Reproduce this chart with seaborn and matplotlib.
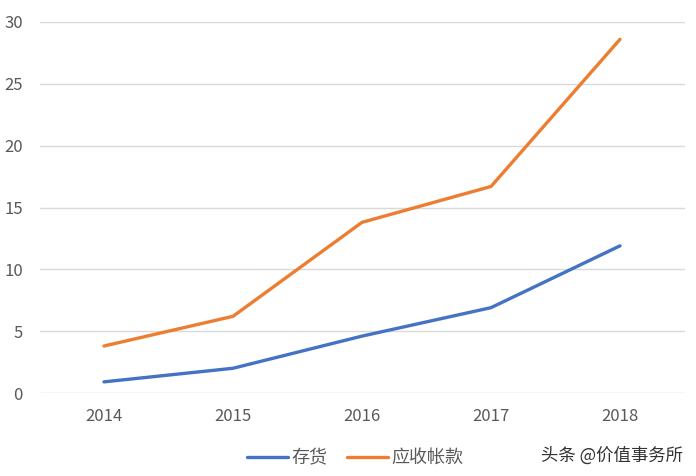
import pandas as pd
import seaborn as sns
import matplotlib.pyplot as plt

years = ['2014', '2015', '2016', '2017', '2018']
inventory = [0.9, 2.0, 4.6, 6.9, 11.9]
receivables = [3.8, 6.2, 13.8, 16.7, 28.6]
series_names = ['存货', '应收帐款']

df = pd.DataFrame({'year': years * 2,
                   'value': inventory + receivables,
                   'series': [series_names[0]] * 5 + [series_names[1]] * 5})
df['pos'] = list(range(5)) * 2

sns.set_theme(style='white')
plt.rcParams['font.family'] = ['Noto Sans CJK SC', 'DejaVu Sans']

fig = plt.figure(figsize=(6.96, 4.76), dpi=100)
ax = fig.add_axes([39.5 / 696, 1 - 393 / 476, 645 / 696, 371 / 476])

sns.lineplot(data=df, x='pos', y='value', hue='series',
             palette=['#4472C4', '#ED7D31'], linewidth=2.4, ax=ax)

ax.set_xlim(-0.5, 4.5)
ax.set_ylim(0, 30)
ax.set_yticks(range(0, 31, 5))
ax.set_xticks(range(5))
ax.set_xticklabels(years)
ax.grid(axis='y', color='#D9D9D9', linewidth=1)
ax.set_axisbelow(True)
for s in ax.spines.values():
    s.set_visible(False)
ax.tick_params(axis='both', length=0, labelsize=12, colors='#595959')
ax.tick_params(axis='x', pad=11)
ax.tick_params(axis='y', pad=12)
ax.set_xlabel('')
ax.set_ylabel('')

ax.legend(loc='center', bbox_to_anchor=(355 / 696, 1 - 458 / 476),
          bbox_transform=fig.transFigure, ncol=2, frameon=False,
          fontsize=13, handlelength=2.3, columnspacing=1.1, handletextpad=0.15,
          labelcolor='#595959')

fig.text(683 / 696, 1 - 456 / 476, '头条 @价值事务所', ha='right', va='center',
         fontsize=12.5, color='#333333')

fig.savefig('out.png', dpi=100)
